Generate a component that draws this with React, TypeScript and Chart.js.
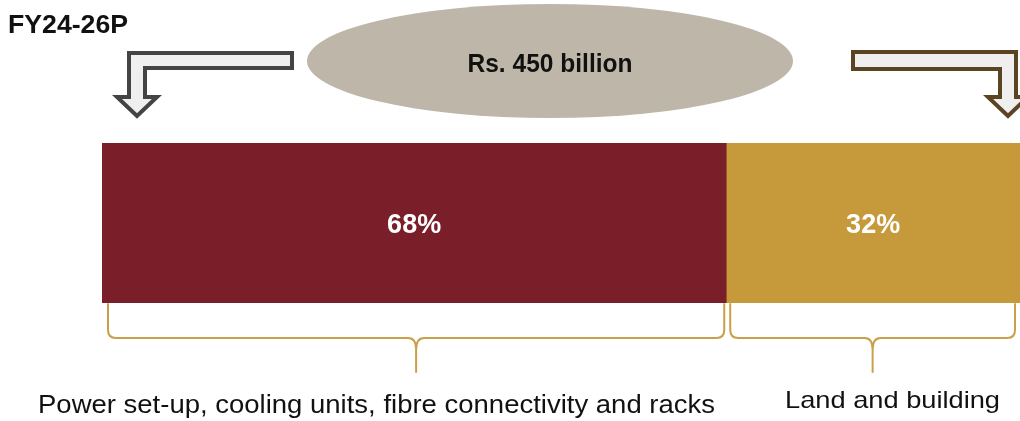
import React, { useEffect, useRef } from "react";
import { Chart, registerables } from "chart.js";

Chart.register(...registerables);

const categories = ["FY24-26P"];
const segmentLabels = ["Power set-up, cooling units, fibre connectivity and racks", "Land and building"];
const segmentShares = [68, 32];
const segmentColors = ["#7A1E2A", "#C69A3B"];
const totalLabel = "Rs. 450 billion";
const periodLabel = "FY24-26P";

const FONT = "Arial, 'Liberation Sans', sans-serif";

function fitText(
  ctx: CanvasRenderingContext2D,
  text: string,
  x: number,
  baseline: number,
  size: number,
  width: number,
  bold: boolean,
  align: "left" | "center",
  color: string
) {
  ctx.save();
  ctx.font = `${bold ? "bold " : ""}${size}px ${FONT}`;
  const w = ctx.measureText(text).width;
  const s = width / w;
  ctx.translate(x, baseline);
  ctx.scale(s, 1);
  ctx.fillStyle = color;
  ctx.textAlign = align;
  ctx.textBaseline = "alphabetic";
  ctx.fillText(text, 0, 0);
  ctx.restore();
}

function brace(ctx: CanvasRenderingContext2D, x0: number, x1: number, yTop: number, yH: number, yBot: number) {
  const mid = (x0 + x1) / 2;
  const r = 8;
  ctx.beginPath();
  ctx.moveTo(x0, yTop);
  ctx.lineTo(x0, yH - r);
  ctx.quadraticCurveTo(x0, yH, x0 + r, yH);
  ctx.lineTo(mid - r, yH);
  ctx.quadraticCurveTo(mid, yH, mid, yH + r + 4);
  ctx.lineTo(mid, yBot);
  ctx.moveTo(mid, yH + r + 4);
  ctx.quadraticCurveTo(mid, yH, mid + r, yH);
  ctx.lineTo(x1 - r, yH);
  ctx.quadraticCurveTo(x1, yH, x1, yH - r);
  ctx.lineTo(x1, yTop);
  ctx.stroke();
}

const decorPlugin = {
  id: "decor",
  afterDatasetsDraw(chart: any) {
    const ctx: CanvasRenderingContext2D = chart.ctx;
    const xs = chart.scales.x;
    const area = chart.chartArea;

    // period label
    fitText(ctx, periodLabel, 8, 33, 25, 120, true, "left", "#111111");

    // ellipse
    ctx.save();
    ctx.fillStyle = "#BEB6A9";
    ctx.beginPath();
    ctx.ellipse(550, 61, 243, 57, 0, 0, Math.PI * 2);
    ctx.fill();
    ctx.restore();
    fitText(ctx, totalLabel, 550, 72, 25, 165, true, "center", "#111111");

    // left arrow
    ctx.save();
    ctx.lineWidth = 4;
    ctx.lineJoin = "miter";
    ctx.strokeStyle = "#444444";
    ctx.fillStyle = "#EFEFEF";
    ctx.beginPath();
    ctx.moveTo(292, 53);
    ctx.lineTo(129, 53);
    ctx.lineTo(129, 97);
    ctx.lineTo(117, 97);
    ctx.lineTo(137, 116);
    ctx.lineTo(157, 97);
    ctx.lineTo(145, 97);
    ctx.lineTo(145, 68);
    ctx.lineTo(292, 68);
    ctx.closePath();
    ctx.fill();
    ctx.stroke();

    // right arrow
    ctx.strokeStyle = "#5A4421";
    ctx.beginPath();
    ctx.moveTo(853, 52);
    ctx.lineTo(1016, 52);
    ctx.lineTo(1016, 97);
    ctx.lineTo(1028, 97);
    ctx.lineTo(1008, 116);
    ctx.lineTo(988, 97);
    ctx.lineTo(1000, 97);
    ctx.lineTo(1000, 69);
    ctx.lineTo(853, 69);
    ctx.closePath();
    ctx.fill();
    ctx.stroke();
    ctx.restore();

    // percentage labels
    let cum = 0;
    const centers: number[] = [];
    const bounds: [number, number][] = [];
    segmentShares.forEach((v) => {
      const a = xs.getPixelForValue(cum);
      const b = xs.getPixelForValue(cum + v);
      centers.push((a + b) / 2);
      bounds.push([a, b]);
      cum += v;
    });
    const midY = (area.top + area.bottom) / 2;
    segmentShares.forEach((v, i) => {
      fitText(ctx, `${v}%`, centers[i], midY + 10, 27, 54, true, "center", "#FFFFFF");
    });

    // braces
    ctx.save();
    ctx.strokeStyle = "#C9A047";
    ctx.lineWidth = 2;
    ctx.lineCap = "round";
    const yTop = area.bottom + 1;
    brace(ctx, bounds[0][0] + 6, bounds[0][1] - 2, yTop, 338, 372);
    brace(ctx, bounds[1][0] + 4, bounds[1][1] - 5, yTop, 338, 372);
    ctx.restore();

    // segment labels
    fitText(ctx, segmentLabels[0], 38, 413, 25, 677, false, "left", "#111111");
    fitText(ctx, segmentLabels[1], 785, 408, 24, 215, false, "left", "#111111");
  },
};

export default function App() {
  const ref = useRef<HTMLCanvasElement | null>(null);
  useEffect(() => {
    if (!ref.current) return;
    const chart = new Chart(ref.current, {
      type: "bar",
      data: {
        labels: categories,
        datasets: segmentShares.map((v, i) => ({
          label: segmentLabels[i],
          data: [v],
          backgroundColor: segmentColors[i],
          borderWidth: 0,
          barPercentage: 1,
          categoryPercentage: 1,
        })),
      },
      options: {
        indexAxis: "y",
        animation: false,
        responsive: false,
        devicePixelRatio: 1,
        layout: { padding: { left: 102, right: 0, top: 143, bottom: 118 } },
        scales: {
          x: { stacked: true, min: 0, max: 100, display: false },
          y: { stacked: true, display: false },
        },
        plugins: {
          legend: { display: false },
          tooltip: { enabled: false },
        },
      },
      plugins: [decorPlugin],
    });
    return () => chart.destroy();
  }, []);
  return (
    <div style={{ position: "absolute", left: 0, top: 0, width: 1020, height: 421, background: "#FFFFFF" }}>
      <canvas ref={ref} width={1020} height={421} style={{ display: "block" }} />
    </div>
  );
}
